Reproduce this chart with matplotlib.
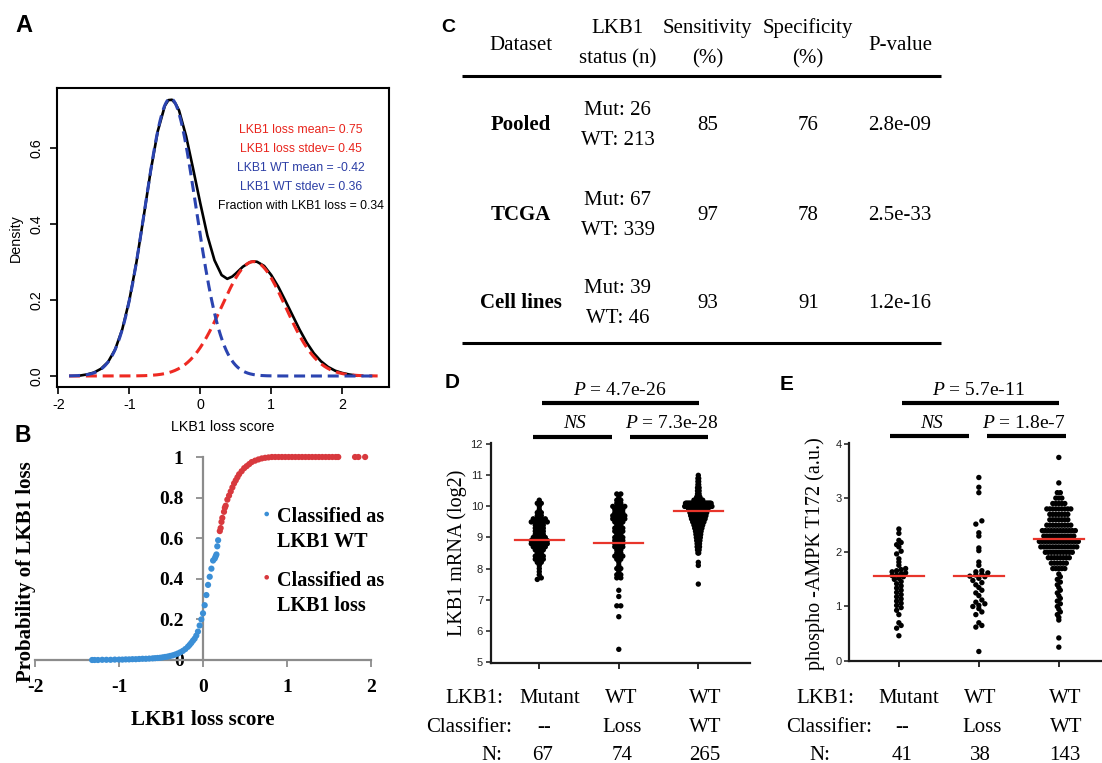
import numpy as np
import matplotlib
matplotlib.use("Agg")
import matplotlib.pyplot as plt

plt.rcParams['axes.unicode_minus'] = False
plt.rcParams['mathtext.fontset'] = 'custom'
plt.rcParams['mathtext.rm'] = 'Liberation Serif'
plt.rcParams['mathtext.it'] = 'Liberation Serif:italic'

SANS = 'Liberation Sans'
SERIF = 'Liberation Serif'

# ---------------- Panel A data ----------------
a_black_x = [-1.7, -1.6, -1.5, -1.4, -1.3, -1.2, -1.1, -1.0, -0.9, -0.8, -0.7, -0.6, -0.5,
             -0.45, -0.4, -0.35, -0.3, -0.2, -0.1, 0.0, 0.1, 0.2, 0.3, 0.38, 0.45, 0.5, 0.6,
             0.7, 0.75, 0.8, 0.9, 1.0, 1.1, 1.2, 1.3, 1.4, 1.5, 1.6, 1.7, 1.8, 1.9, 2.0, 2.1, 2.2]
a_black_y = [0.001, 0.004, 0.009, 0.019, 0.037, 0.070, 0.123, 0.200, 0.300, 0.418, 0.540, 0.645, 0.712,
             0.727, 0.728, 0.718, 0.700, 0.632, 0.545, 0.455, 0.370, 0.305, 0.266, 0.256, 0.262, 0.270, 0.288,
             0.300, 0.302, 0.301, 0.290, 0.266, 0.235, 0.198, 0.160, 0.122, 0.088, 0.060, 0.039, 0.024, 0.014,
             0.008, 0.004, 0.001]
a_loss_mean, a_loss_sd = 0.75, 0.45
a_wt_mean, a_wt_sd = -0.42, 0.36
a_loss_frac = 0.34
a_xrange = [-1.85, 2.5]
a_xticks = [-2, -1, 0, 1, 2]
a_yticks = [0.0, 0.2, 0.4, 0.6]
a_annot = ["LKB1 loss mean= 0.75", "LKB1 loss stdev= 0.45", "LKB1 WT mean = -0.42",
           "LKB1 WT stdev = 0.36", "Fraction with LKB1 loss = 0.34"]

# ---------------- Panel B data ----------------
b_wt_x = [-1.32, -1.29, -1.25, -1.2, -1.15, -1.1, -1.05, -1.0, -0.96, -0.92, -0.88, -0.84, -0.8,
          -0.76, -0.72, -0.68, -0.64, -0.6, -0.57, -0.54, -0.51, -0.48, -0.45, -0.42, -0.39, -0.36,
          -0.33, -0.3, -0.27, -0.24, -0.21, -0.18, -0.16, -0.14, -0.12, -0.1, -0.08, -0.06, -0.04,
          -0.02, 0.0, 0.02, 0.04, 0.06, 0.08, 0.1, 0.12, 0.14, 0.15, 0.16, 0.17, 0.18]
b_wt_y = [0.0, 0.0, 0.0, 0.001, 0.001, 0.001, 0.002, 0.002, 0.002, 0.003, 0.003, 0.004, 0.004,
          0.005, 0.006, 0.006, 0.007, 0.008, 0.009, 0.01, 0.011, 0.013, 0.015, 0.017, 0.02, 0.023,
          0.027, 0.032, 0.038, 0.045, 0.054, 0.065, 0.074, 0.084, 0.095, 0.105, 0.12, 0.14, 0.17,
          0.2, 0.23, 0.27, 0.32, 0.37, 0.41, 0.45, 0.49, 0.5, 0.51, 0.52, 0.56, 0.59]
b_loss_x = [0.20, 0.21, 0.22, 0.23, 0.25, 0.26, 0.27, 0.29, 0.31, 0.33, 0.35, 0.37, 0.39, 0.41,
            0.43, 0.46, 0.49, 0.52, 0.55, 0.58, 0.62, 0.66, 0.70, 0.74, 0.78, 0.82, 0.86, 0.90,
            0.94, 0.98, 1.02, 1.06, 1.10, 1.14, 1.18, 1.22, 1.26, 1.30, 1.34, 1.38, 1.42, 1.46,
            1.50, 1.54, 1.58, 1.61, 1.81, 1.85, 1.93]
b_loss_y = [0.635, 0.65, 0.68, 0.70, 0.73, 0.75, 0.76, 0.79, 0.81, 0.83, 0.85, 0.87, 0.885, 0.90,
            0.915, 0.93, 0.945, 0.955, 0.965, 0.975, 0.982, 0.988, 0.993, 0.996, 0.998,
            1, 1, 1, 1, 1, 1, 1, 1, 1, 1, 1, 1, 1, 1, 1, 1, 1, 1, 1, 1, 1, 1, 1, 1]
b_xticks = [-2, -1, 0, 1, 2]
b_yticks = [0, 0.2, 0.4, 0.6, 0.8, 1]
b_yticklabels = ['0', '0.2', '0.4', '0.6', '0.8', '1']
b_legend = ["Classified as\nLKB1 WT", "Classified as\nLKB1 loss"]

# ---------------- Panel C data ----------------
c_datasets = ['Pooled', 'TCGA', 'Cell lines']
c_mut = [26, 67, 39]
c_wt = [213, 339, 46]
c_sens = [85, 97, 93]
c_spec = [76, 78, 91]
c_pval = ['2.8e-09', '2.5e-33', '1.2e-16']

# ---------------- Panel D data ----------------
d_lkb1 = ['Mutant', 'WT', 'WT']
d_classifier = ['--', 'Loss', 'WT']
d_n = [67, 74, 265]
d_mut_levels = [10.2, 10.1, 10.0, 9.9, 9.8, 9.7, 9.6, 9.5, 9.4, 9.3, 9.2, 9.1, 9.0, 8.9, 8.8,
                8.7, 8.6, 8.5, 8.4, 8.3, 8.2, 8.1, 8.0, 7.9, 7.8, 7.7, 7.65]
d_mut_counts = [1, 2, 1, 1, 2, 2, 4, 5, 3, 3, 3, 3, 4, 5, 5, 4, 3, 2, 3, 3, 2, 1, 1, 1, 1, 1, 1]
d_wtloss_levels = [10.4, 10.3, 10.2, 10.1, 10.0, 9.9, 9.8, 9.7, 9.6, 9.5, 9.4, 9.3, 9.2, 9.1, 9.0,
                   8.9, 8.8, 8.7, 8.6, 8.5, 8.4, 8.3, 8.2, 8.1, 8.0, 7.9, 7.8, 7.7, 7.3, 7.1, 6.8,
                   6.45, 5.4]
d_wtloss_counts = [2, 1, 2, 2, 4, 3, 3, 4, 4, 3, 2, 3, 3, 2, 3, 3, 3, 3, 2, 2, 3, 2, 1, 1, 2, 1,
                   2, 2, 1, 1, 2, 1, 1]
d_wtwt_levels = [11.0, 10.9, 10.8, 10.7, 10.6, 10.5, 10.4, 10.3, 10.2, 10.1, 10.0, 9.9, 9.8, 9.7,
                 9.6, 9.5, 9.4, 9.3, 9.2, 9.1, 9.0, 8.9, 8.8, 8.7, 8.6, 8.5, 8.2, 8.1, 7.5]
d_wtwt_counts = [1, 2, 2, 2, 3, 3, 3, 5, 12, 33, 35, 25, 22, 20, 18, 15, 12, 10, 8, 7, 6, 5, 4, 4,
                 3, 2, 1, 1, 1]
d_median = [8.93, 8.83, 9.85]
d_p_all = r"$\mathit{P}$ = 4.7e-26"
d_p_right = r"$\mathit{P}$ = 7.3e-28"

# ---------------- Panel E data ----------------
e_lkb1 = ['Mutant', 'WT', 'WT']
e_classifier = ['--', 'Loss', 'WT']
e_n = [41, 38, 143]
e_mut_vals = [2.43, 2.35, 2.22, 2.18, 2.14, 2.10, 2.02, 1.97, 1.88, 1.82, 1.76, 1.70, 1.68, 1.66,
              1.64, 1.62, 1.60, 1.58, 1.57, 1.55, 1.52, 1.50, 1.46, 1.42, 1.38, 1.34, 1.30, 1.26,
              1.22, 1.18, 1.14, 1.10, 1.06, 1.02, 0.98, 0.93, 0.85, 0.70, 0.65, 0.60, 0.46]
e_wtloss_vals = [3.38, 3.20, 3.10, 2.58, 2.52, 2.36, 2.30, 2.08, 2.03, 1.82, 1.76, 1.66, 1.64,
                 1.62, 1.60, 1.58, 1.56, 1.55, 1.52, 1.48, 1.44, 1.40, 1.35, 1.30, 1.25, 1.20,
                 1.12, 1.08, 1.05, 1.02, 1.00, 0.96, 0.90, 0.85, 0.70, 0.65, 0.62, 0.17]
e_wtwt_levels = [3.75, 3.28, 3.1, 3.0, 2.9, 2.8, 2.7, 2.6, 2.5, 2.4, 2.3, 2.2, 2.1, 2.0, 1.9, 1.8,
                 1.7, 1.6, 1.55, 1.5, 1.45, 1.4, 1.35, 1.3, 1.25, 1.2, 1.15, 1.1, 1.05, 1.0, 0.95,
                 0.9, 0.85, 0.8, 0.75, 0.42, 0.25]
e_wtwt_counts = [1, 1, 2, 3, 5, 9, 7, 7, 9, 12, 11, 14, 13, 10, 8, 6, 5, 1, 1, 1, 1, 1, 1, 1, 1,
                 1, 1, 1, 1, 1, 1, 1, 1, 1, 1, 1, 1]
e_median = [1.56, 1.56, 2.25]
e_p_all = r"$\mathit{P}$ = 5.7e-11"
e_p_right = r"$\mathit{P}$ = 1.8e-7"

# ---------------- figure ----------------
W, H = 1102, 763
fig = plt.figure(figsize=(W / 100, H / 100), dpi=100)


def rect(x0, y0, x1, y1):
    return [x0 / W, 1 - y1 / H, (x1 - x0) / W, (y1 - y0) / H]


def npdf(x, m, s):
    return np.exp(-0.5 * ((x - m) / s) ** 2) / (s * np.sqrt(2 * np.pi))


# ---- Panel A ----
axA = fig.add_axes(rect(57, 88, 389, 387))
xs = np.linspace(a_xrange[0], a_xrange[1], 500)
axA.plot(a_black_x, a_black_y, color='black', lw=1.9, zorder=2)
axA.plot(xs, a_loss_frac * npdf(xs, a_loss_mean, a_loss_sd), color='#ee2a22', lw=2.2,
         dashes=(3.6, 1.9), zorder=3)
axA.plot(xs, (1 - a_loss_frac) * npdf(xs, a_wt_mean, a_wt_sd), color='#2b44b0', lw=2.2,
         dashes=(3.6, 1.9), zorder=3)
axA.set_xlim(-2.02, 2.66)
axA.set_ylim(-0.029, 0.759)
axA.set_xticks(a_xticks, labels=[str(t) for t in a_xticks], fontfamily=SANS, fontsize=10.3)
axA.set_yticks(a_yticks, labels=['%.1f' % t for t in a_yticks], fontfamily=SANS, fontsize=10.3,
               rotation=90, va='center')
axA.tick_params(axis='x', length=5, width=1.2, pad=3)
axA.tick_params(axis='y', length=5, width=1.2, pad=5)
for sp in axA.spines.values():
    sp.set_linewidth(1.5)

# ---- Panel B ----
axB = fig.add_axes(rect(30, 450, 380, 665))
axB.set_xlim(-2 - 5 / 84, 2 + 9 / 84)
axB.set_ylim(-5 / 203, 1 + 7 / 203)
axB.scatter(b_wt_x, b_wt_y, s=20, color='#3b8fd6', edgecolors='none', zorder=3)
axB.scatter(b_loss_x, b_loss_y, s=20, color='#d8393e', edgecolors='none', zorder=3)
for side in ['top', 'right']:
    axB.spines[side].set_visible(False)
axB.spines['left'].set_position(('data', 0))
axB.spines['bottom'].set_position(('data', 0))
axB.spines['left'].set_bounds(0, 1)
axB.spines['bottom'].set_bounds(-2, 2)
for side in ['left', 'bottom']:
    axB.spines[side].set_color('#8c8c8c')
    axB.spines[side].set_linewidth(1.6)
axB.set_xticks(b_xticks, labels=[str(t) for t in b_xticks], fontfamily=SERIF,
               fontweight='bold', fontsize=14)
axB.set_yticks(b_yticks, labels=b_yticklabels, fontfamily=SERIF, fontweight='bold', fontsize=14)
axB.tick_params(axis='x', length=5, width=1.3, color='#8c8c8c', pad=9)
axB.tick_params(axis='y', length=5, width=1.3, color='#8c8c8c', pad=9)
axB.patch.set_alpha(0)


# ---- swarm-like layout helper (positions only) ----
def row_layout(vals, row_h, sp_px, cap_px, xpx):
    vals = np.asarray(vals, float)
    keys = np.round(vals / row_h + 1e-9).astype(int)
    off = np.zeros(len(vals))
    for k in np.unique(keys):
        idx = np.where(keys == k)[0]
        idx = idx[np.argsort(vals[idx], kind='stable')]
        c = len(idx)
        if c == 1:
            continue
        hw = min((c - 1) / 2 * sp_px, cap_px)
        off[idx] = np.linspace(-hw, hw, c)
    return off / xpx


def style_dot_axes(ax):
    for side in ['top', 'right']:
        ax.spines[side].set_visible(False)
    for side in ['left', 'bottom']:
        ax.spines[side].set_linewidth(1.6)
        ax.spines[side].set_color('#1a1a1a')
    ax.set_xticks([0, 1, 2], labels=['', '', ''])
    ax.tick_params(axis='x', length=4, width=1.3, color='#1a1a1a')
    ax.tick_params(axis='y', length=3.5, width=1.1, color='#1a1a1a', pad=2,
                   labelsize=8, labelcolor='#222222')
    for lab in ax.get_yticklabels():
        lab.set_fontfamily(SANS)
    ax.patch.set_alpha(0)


# ---- Panel D ----
axD = fig.add_axes(rect(490.7, 442.7, 750, 662.7))
axD.set_xlim(-0.611, 2.65)
axD.set_ylim(4.97, 12.05)
d_sets = [np.repeat(d_mut_levels, d_mut_counts),
          np.repeat(d_wtloss_levels, d_wtloss_counts),
          np.repeat(d_wtwt_levels, d_wtwt_counts)]
d_layout = [(4.0, 9.0), (4.0, 8.0), (0.8, 15.0)]
for i, vals in enumerate(d_sets):
    sp_px, cap = d_layout[i]
    xo = row_layout(vals, 0.1, sp_px, cap, 79.5)
    axD.scatter(i + xo, vals, s=15, color='black', edgecolors='none', zorder=3)
    axD.plot([i - 0.31, i + 0.31], [d_median[i]] * 2, color='#e8352b', lw=1.6, zorder=4)
axD.set_yticks(range(5, 13))
style_dot_axes(axD)

# ---- Panel E ----
axE = fig.add_axes(rect(849.3, 442.7, 1102, 660.7))
axE.set_xlim(-0.62, 2.54)
axE.set_ylim(0, 4.022)
e_sets = [np.asarray(e_mut_vals), np.asarray(e_wtloss_vals),
          np.repeat(e_wtwt_levels, e_wtwt_counts)]
e_layout = [(4.5, 11.0), (6.0, 13.0), (3.0, 21.0)]
for i, vals in enumerate(e_sets):
    sp_px, cap = e_layout[i]
    xo = row_layout(vals, 0.08, sp_px, cap, 80.0)
    axE.scatter(i + xo, vals, s=15, color='black', edgecolors='none', zorder=3)
    axE.plot([i - 0.31, i + 0.31], [e_median[i]] * 2, color='#e8352b', lw=1.6, zorder=4)
axE.set_yticks(range(0, 5))
style_dot_axes(axE)

# ---- overlay (pixel coordinates) for labels, table and annotations ----
ov = fig.add_axes([0, 0, 1, 1])
ov.set_xlim(0, W)
ov.set_ylim(H, 0)
ov.axis('off')

# panel letters
for lab, x, y, fs in [('A', 15, 32, 17), ('B', 15, 441.7, 16.5), ('C', 441.7, 31.7, 14),
                      ('D', 445, 388.3, 15), ('E', 780, 390, 15)]:
    ov.text(x, y, lab, fontfamily=SANS, fontweight='bold', fontsize=fs, ha='left', va='baseline')

# Panel A texts
a_cols = ['#e8241c', '#e8241c', '#2c3ea5', '#2c3ea5', 'black']
for t, y, c in zip(a_annot, [130, 149.3, 168.3, 187.3, 206], a_cols):
    ov.text(300.7, y, t, color=c, fontfamily=SANS, fontsize=8.8, ha='center', va='center')
ov.text(15.7, 238, 'Density', rotation=90, fontfamily=SANS, fontsize=10.3, ha='center', va='center')
ov.text(222.7, 426.7, 'LKB1 loss score', fontfamily=SANS, fontsize=10.3, ha='center', va='center')

# Panel B labels and legend
ov.text(26, 572, 'Probability of LKB1 loss', rotation=90, fontfamily=SERIF, fontweight='bold',
        fontsize=15, ha='center', va='center')
ov.text(202.7, 720, 'LKB1 loss score', fontfamily=SERIF, fontweight='bold', fontsize=15,
        ha='center', va='center')
ov.scatter([266.7], [514], s=11, color='#3b8fd6', edgecolors='none')
ov.scatter([266.7], [577.3], s=11, color='#d8393e', edgecolors='none')
for txt, ys in zip(b_legend, [(521.7, 546.7), (585.7, 610.7)]):
    l1, l2 = txt.split('\n')
    ov.text(276.7, ys[0], l1, fontfamily=SERIF, fontweight='bold', fontsize=14.5, va='baseline')
    ov.text(276.7, ys[1], l2, fontfamily=SERIF, fontweight='bold', fontsize=14.5, va='baseline')

# Panel C table
TF = dict(fontfamily=SERIF, fontsize=15, ha='center', va='baseline')
col_x = [520.7, 617.7, 707.7, 807.7, 900]
ov.text(col_x[0], 50, 'Dataset', **TF)
ov.text(col_x[1], 33.3, 'LKB1', **TF)
ov.text(col_x[1], 63.3, 'status (n)', **TF)
ov.text(col_x[2], 33.3, 'Sensitivity', **TF)
ov.text(col_x[2], 63.3, '(%)', **TF)
ov.text(col_x[3], 33.3, 'Specificity', **TF)
ov.text(col_x[3], 63.3, '(%)', **TF)
ov.text(col_x[4], 50, 'P-value', **TF)
ov.plot([462.3, 940.7], [76, 76], color='black', lw=2.2, solid_capstyle='butt')
ov.plot([462.3, 940.7], [342.7, 342.7], color='black', lw=2.2, solid_capstyle='butt')
row_base = [130, 220, 308.3]
for i in range(3):
    yb = row_base[i]
    ov.text(col_x[0], yb, c_datasets[i], fontweight='bold', **TF)
    ov.text(col_x[1], yb - 15, 'Mut: %d' % c_mut[i], **TF)
    ov.text(col_x[1], yb + 15, 'WT: %d' % c_wt[i], **TF)
    ov.text(col_x[2], yb, str(c_sens[i]), **TF)
    ov.text(col_x[3] + 0.6, yb, str(c_spec[i]), **TF)
    ov.text(col_x[4], yb, c_pval[i], **TF)

# Panels D/E significance bars
BF = dict(color='black', lw=3.0, solid_capstyle='butt')
SF = dict(fontfamily=SERIF, fontsize=14, ha='center', va='baseline')
ov.plot([542.3, 699.3], [403.3, 403.3], **BF)
ov.plot([533.3, 611.7], [437.3, 437.3], **BF)
ov.plot([630, 708.3], [436.7, 436.7], **BF)
ov.text(620, 395, d_p_all, **SF)
ov.text(575, 428.3, 'NS', fontstyle='italic', **SF)
ov.text(671.7, 428.3, d_p_right, **SF)
ov.plot([901.7, 1059], [403.3, 403.3], **BF)
ov.plot([890, 969], [435.7, 435.7], **BF)
ov.plot([987.3, 1066], [436.3, 436.3], **BF)
ov.text(978.3, 395, e_p_all, **SF)
ov.text(931.7, 427.7, 'NS', fontstyle='italic', **SF)
ov.text(1023.3, 428.3, e_p_right, **SF)

# Panels D/E y labels
ov.text(456.7, 553, 'LKB1 mRNA (log2)', rotation=90, fontfamily=SERIF, fontsize=14.5,
        ha='center', va='center')
ov.text(815, 553.3, 'phospho -AMPK T172 (a.u.)', rotation=90, fontfamily=SERIF, fontsize=14.5,
        ha='center', va='center')

# Panels D/E category rows
RF = dict(fontfamily=SERIF, fontsize=15, ha='center', va='baseline')
rows_y = [703.3, 731.7, 760]
d_cols = [[550, 621.7, 705], [544, 622, 705], [542.7, 621.7, 705]]
e_cols = [[908.3, 980, 1065], [901.7, 981.7, 1066], [901.7, 980.7, 1065]]
for hdr_x, cols, rowvals in [((474, 469, 492), d_cols, [d_lkb1, d_classifier, [str(n) for n in d_n]]),
                             ((825, 829, 820), e_cols, [e_lkb1, e_classifier, [str(n) for n in e_n]])]:
    for r, (hdr, y) in enumerate(zip(['LKB1:', 'Classifier:', 'N:'], rows_y)):
        ov.text(hdr_x[r], y, hdr, **RF)
        for j in range(3):
            ov.text(cols[r][j], y, rowvals[r][j], **RF)

fig.savefig('out.png', dpi=100)
